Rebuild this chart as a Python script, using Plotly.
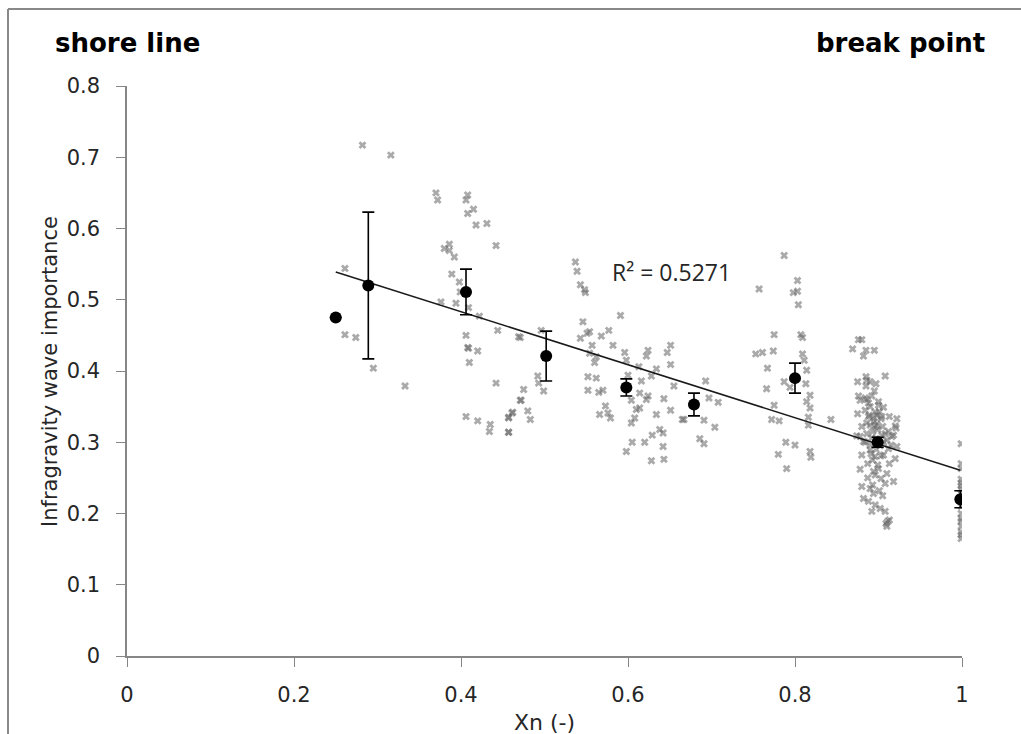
import plotly.graph_objects as go

# ---------------- data ----------------
scatter_x = [
    0.282, 0.316, 0.370, 0.372, 0.408, 0.406, 0.415, 0.408, 0.418, 0.431,
    0.442, 0.386, 0.380, 0.386, 0.392, 0.261, 0.389, 0.398, 0.399, 0.376,
    0.394, 0.409, 0.422, 0.444, 0.469, 0.261, 0.274, 0.406, 0.408, 0.409,
    0.420, 0.410, 0.295, 0.333, 0.442, 0.471, 0.406, 0.420, 0.435, 0.434,
    0.457, 0.461, 0.457,
    0.537, 0.539, 0.543, 0.548, 0.549, 0.591, 0.546, 0.554, 0.551, 0.577,
    0.543, 0.568, 0.496, 0.471, 0.557, 0.582, 0.554, 0.562, 0.560, 0.596,
    0.598, 0.624, 0.622, 0.651, 0.647, 0.651, 0.613, 0.634, 0.628, 0.492,
    0.493, 0.499, 0.475, 0.472, 0.480, 0.462, 0.457, 0.483, 0.457, 0.552,
    0.562, 0.552, 0.565, 0.570, 0.600, 0.616, 0.614, 0.624, 0.622, 0.604,
    0.610, 0.614, 0.608, 0.573, 0.576, 0.566, 0.579, 0.604, 0.634, 0.643,
    0.651, 0.655, 0.665, 0.667, 0.691, 0.693, 0.697, 0.708, 0.704, 0.686,
    0.691, 0.629, 0.638, 0.642, 0.620, 0.605, 0.598, 0.628, 0.643, 0.642,
    0.787, 0.757, 0.803, 0.798, 0.803, 0.804, 0.775, 0.807, 0.809, 0.753,
    0.761, 0.774, 0.809, 0.811, 0.767, 0.814, 0.787, 0.794, 0.813, 0.766,
    0.818, 0.814, 0.775, 0.818, 0.772, 0.781, 0.816, 0.816, 0.843, 0.789,
    0.800, 0.818, 0.819, 0.780, 0.790,
    0.876, 0.880, 0.869, 0.885, 0.882, 0.895, 0.908, 0.875, 0.886, 0.890,
    0.885, 0.895, 0.878, 0.886, 0.890, 0.900, 0.906, 0.888, 0.894, 0.898,
    0.913, 0.922, 0.920, 0.890, 0.896, 0.878, 0.874, 0.882, 0.904, 0.910,
    0.916, 0.922, 0.912, 0.890, 0.880, 0.896, 0.906, 0.920, 0.913, 0.878,
    0.894, 0.900, 0.896, 0.910, 0.918, 0.908, 0.890, 0.894, 0.882, 0.888,
    0.896, 0.902, 0.892, 0.908, 0.911, 0.910,
    0.884, 0.888, 0.892, 0.896, 0.900, 0.903, 0.886, 0.893, 0.899, 0.905,
    0.908, 0.884, 0.890, 0.897, 0.902, 0.906, 0.912, 0.915, 0.887, 0.893,
    0.899, 0.903, 0.887, 0.893, 0.901, 0.905, 0.880, 0.884, 0.897, 0.876,
    0.913, 0.909, 0.885, 0.918, 0.921, 0.880, 0.875,
    0.889, 0.895, 0.901, 0.886, 0.892, 0.898, 0.904, 0.891, 0.897, 0.903,
    0.999, 0.999, 0.999, 0.999, 0.999, 0.999, 0.999, 0.999, 0.999, 0.999,
    0.999, 0.999, 0.999, 0.999, 0.999, 0.999,
]
scatter_y = [
    0.717, 0.703, 0.650, 0.640, 0.647, 0.640, 0.627, 0.621, 0.605, 0.607,
    0.576, 0.578, 0.572, 0.569, 0.560, 0.544, 0.536, 0.525, 0.511, 0.497,
    0.495, 0.489, 0.477, 0.457, 0.448, 0.451, 0.447, 0.450, 0.433, 0.432,
    0.428, 0.412, 0.404, 0.379, 0.383, 0.359, 0.336, 0.330, 0.325, 0.315,
    0.335, 0.341, 0.314,
    0.553, 0.540, 0.521, 0.514, 0.510, 0.478, 0.469, 0.455, 0.453, 0.457,
    0.446, 0.449, 0.457, 0.447, 0.436, 0.436, 0.425, 0.420, 0.412, 0.426,
    0.415, 0.429, 0.421, 0.436, 0.426, 0.409, 0.406, 0.403, 0.393, 0.393,
    0.383, 0.372, 0.374, 0.359, 0.344, 0.342, 0.334, 0.332, 0.314, 0.392,
    0.390, 0.373, 0.370, 0.373, 0.394, 0.386, 0.369, 0.365, 0.360, 0.359,
    0.346, 0.348, 0.334, 0.351, 0.341, 0.339, 0.334, 0.327, 0.339, 0.361,
    0.345, 0.379, 0.332, 0.332, 0.331, 0.386, 0.362, 0.356, 0.321, 0.305,
    0.298, 0.310, 0.318, 0.313, 0.300, 0.300, 0.287, 0.274, 0.276, 0.294,
    0.562, 0.515, 0.527, 0.510, 0.512, 0.493, 0.451, 0.451, 0.447, 0.424,
    0.426, 0.428, 0.424, 0.415, 0.404, 0.401, 0.385, 0.377, 0.382, 0.375,
    0.366, 0.357, 0.352, 0.348, 0.332, 0.330, 0.335, 0.324, 0.332, 0.300,
    0.296, 0.287, 0.279, 0.283, 0.263,
    0.444, 0.444, 0.431, 0.429, 0.421, 0.429, 0.393, 0.385, 0.387, 0.385,
    0.379, 0.372, 0.359, 0.360, 0.350, 0.357, 0.349, 0.336, 0.334, 0.338,
    0.336, 0.333, 0.323, 0.324, 0.322, 0.308, 0.309, 0.301, 0.310, 0.303,
    0.308, 0.294, 0.291, 0.289, 0.282, 0.280, 0.282, 0.277, 0.270, 0.262,
    0.259, 0.263, 0.254, 0.256, 0.245, 0.242, 0.235, 0.228, 0.221, 0.217,
    0.212, 0.207, 0.203, 0.203, 0.189, 0.182,
    0.345, 0.355, 0.365, 0.342, 0.352, 0.333, 0.327, 0.315, 0.318, 0.322,
    0.312, 0.300, 0.296, 0.305, 0.295, 0.300, 0.315, 0.296, 0.270, 0.275,
    0.268, 0.249, 0.250, 0.240, 0.232, 0.225, 0.238, 0.362, 0.382, 0.365,
    0.191, 0.186, 0.392, 0.310, 0.320, 0.322, 0.340,
    0.338, 0.329, 0.343, 0.312, 0.306, 0.325, 0.336, 0.284, 0.290, 0.281,
    0.298, 0.270, 0.263, 0.248, 0.243, 0.239, 0.234, 0.228, 0.210, 0.200,
    0.193, 0.189, 0.182, 0.174, 0.170, 0.165,
]

mean_x = [0.25, 0.289, 0.406, 0.502, 0.598, 0.679, 0.800, 0.899, 0.998]
mean_y = [0.475, 0.520, 0.511, 0.421, 0.377, 0.353, 0.390, 0.300, 0.220]
mean_err = [0.0, 0.103, 0.032, 0.035, 0.012, 0.016, 0.021, 0.007, 0.012]

trend_slope = -0.372
trend_intercept = 0.632
r2_text = "R² = 0.5271"

x_ticks = [0, 0.2, 0.4, 0.6, 0.8, 1]
x_ticklabels = ["0", "0.2", "0.4", "0.6", "0.8", "1"]
y_ticks = [0, 0.1, 0.2, 0.3, 0.4, 0.5, 0.6, 0.7, 0.8]
y_ticklabels = ["0", "0.1", "0.2", "0.3", "0.4", "0.5", "0.6", "0.7", "0.8"]

# ---------------- figure ----------------
W, H = 1021, 734
ML, MR, MT, MB = 127, 59, 86, 78
PW, PH = W - ML - MR, H - MT - MB


def px(xp):
    return (xp - ML) / PW


def py(yp):
    return (H - MB - yp) / PH


FONT = "DejaVu Sans"
TXT = "#262626"
AXC = "#868686"

fig = go.Figure()

fig.add_trace(go.Scatter(
    x=scatter_x, y=scatter_y, mode="markers",
    marker=dict(symbol="x", size=7, color="rgba(100,100,100,0.55)",
                line=dict(width=0)),
    showlegend=False, hoverinfo="skip",
))

tx = [min(mean_x), max(mean_x)]
ty = [trend_slope * v + trend_intercept for v in tx]
fig.add_trace(go.Scatter(
    x=tx, y=ty, mode="lines", line=dict(color="#1a1a1a", width=1.5),
    showlegend=False, hoverinfo="skip",
))

fig.add_trace(go.Scatter(
    x=mean_x, y=mean_y, mode="markers",
    marker=dict(symbol="circle", size=12, color="black"),
    error_y=dict(type="data", array=mean_err, visible=True,
                 color="black", thickness=1.6, width=6),
    showlegend=False, hoverinfo="skip",
))

fig.update_layout(
    width=W, height=H,
    margin=dict(l=ML, r=MR, t=MT, b=MB, pad=0),
    paper_bgcolor="white", plot_bgcolor="white",
    font=dict(family=FONT, size=21, color=TXT),
    xaxis=dict(range=[0, 1], tickvals=x_ticks, ticktext=x_ticklabels,
               ticks="outside", ticklen=9, tickwidth=1.3, tickcolor=AXC,
               showline=True, linecolor=AXC, linewidth=1.5,
               showgrid=False, zeroline=False,
               tickfont=dict(family=FONT, size=21, color=TXT),
               ticklabelstandoff=10),
    yaxis=dict(range=[0, 0.8], tickvals=y_ticks, ticktext=y_ticklabels,
               ticks="outside", ticklen=9, tickwidth=1.3, tickcolor=AXC,
               showline=True, linecolor=AXC, linewidth=1.5,
               showgrid=False, zeroline=False,
               tickfont=dict(family=FONT, size=21, color=TXT),
               ticklabelstandoff=12),
)

annotations = [
    dict(text="<b>shore line</b>", x=px(53), y=py(43), xref="paper", yref="paper",
         xanchor="left", yanchor="middle", showarrow=False,
         font=dict(family=FONT, size=26, color="black")),
    dict(text="<b>break point</b>", x=px(987), y=py(43), xref="paper", yref="paper",
         xanchor="right", yanchor="middle", showarrow=False,
         font=dict(family=FONT, size=26, color="black")),
    dict(text=r2_text, x=px(610), y=py(272), xref="paper", yref="paper",
         xanchor="left", yanchor="middle", showarrow=False,
         font=dict(family="Open Sans", size=23, color=TXT)),
    dict(text="Infragravity wave importance", x=px(50), y=py(372),
         xref="paper", yref="paper", textangle=-90,
         xanchor="center", yanchor="middle", showarrow=False,
         font=dict(family=FONT, size=21, color=TXT)),
    dict(text="Xn (-)", x=0.5, y=py(722), xref="paper", yref="paper",
         xanchor="center", yanchor="middle", showarrow=False,
         font=dict(family=FONT, size=22, color=TXT)),
]
fig.update_layout(annotations=annotations)

fig.add_shape(type="line", xref="paper", yref="paper",
              x0=px(8), x1=px(8), y0=py(9), y1=py(H + 5),
              line=dict(color="#898989", width=2))
fig.add_shape(type="line", xref="paper", yref="paper",
              x0=px(8), x1=px(W + 5), y0=py(9), y1=py(9),
              line=dict(color="#898989", width=2))

fig.write_html("out.html")
